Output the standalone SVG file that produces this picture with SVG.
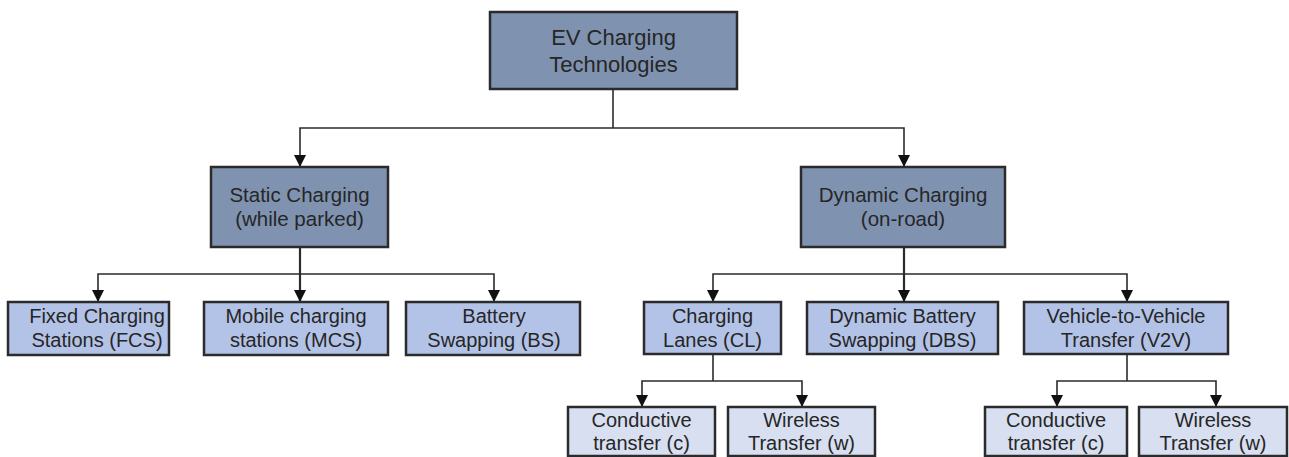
<svg xmlns="http://www.w3.org/2000/svg" width="1289" height="457" viewBox="0 0 1289 457">
<style>
.box{stroke:#2b2b2b;stroke-width:2.5}
.l0{fill:#7f93b1}
.l1{fill:#7f93b1}
.l2{fill:#b3c3e7}
.l3{fill:#d7dff1}
text{font-family:"Liberation Sans",Arial,sans-serif;fill:#262626;text-anchor:middle}
.t0{font-size:22px}
.t1{font-size:20.5px}
.t2{font-size:20px}
.c{fill:none;stroke:#2b2b2b;stroke-width:1.6}
</style>
<defs>
<marker id="ah" viewBox="0 0 12 12" refX="12" refY="6" markerWidth="12" markerHeight="12" markerUnits="userSpaceOnUse" orient="auto-start-reverse">
<path d="M0,0 L12,6 L0,12 Z" fill="#111"/>
</marker>
</defs>
<g id="connectors">
<path class="c" d="M613,89 V128"/>
<path class="c" d="M300,167 V128 H904 V167" marker-start="url(#ah)" marker-end="url(#ah)"/>
<path class="c" d="M300,247 V302" marker-end="url(#ah)" style="stroke-width:2.2"/>
<path class="c" d="M98,302 V274 H494 V302" marker-start="url(#ah)" marker-end="url(#ah)"/>
<path class="c" d="M904,247 V302" marker-end="url(#ah)" style="stroke-width:2.2"/>
<path class="c" d="M713,302 V274 H1127 V302" marker-start="url(#ah)" marker-end="url(#ah)"/>
<path class="c" d="M713,354 V381"/>
<path class="c" d="M642,407 V381 H802 V407" marker-start="url(#ah)" marker-end="url(#ah)"/>
<path class="c" d="M1127,354 V381"/>
<path class="c" d="M1057,407 V381 H1216 V407" marker-start="url(#ah)" marker-end="url(#ah)"/>
</g>
<g id="root">
<rect class="box l0" x="490" y="12" width="247" height="77"/>
<text class="t0" x="613.5" y="45">EV Charging</text>
<text class="t0" x="613.5" y="72">Technologies</text>
</g>
<g id="static">
<rect class="box l1" x="211" y="167" width="177" height="80"/>
<text class="t1" x="299.5" y="202">Static Charging</text>
<text class="t1" x="299.5" y="226">(while parked)</text>
</g>
<g id="dynamic">
<rect class="box l1" x="801" y="167" width="204" height="80"/>
<text class="t1" x="903" y="202">Dynamic Charging</text>
<text class="t1" x="903" y="226">(on-road)</text>
</g>
<g id="fcs">
<rect class="box l2" x="8" y="302" width="161" height="53"/>
<text class="t2" x="97" y="323">Fixed Charging</text>
<text class="t2" x="97" y="347">Stations (FCS)</text>
</g>
<g id="mcs">
<rect class="box l2" x="204" y="302" width="184" height="53"/>
<text class="t2" x="296" y="323">Mobile charging</text>
<text class="t2" x="296" y="347">stations (MCS)</text>
</g>
<g id="bs">
<rect class="box l2" x="406" y="302" width="174" height="53"/>
<text class="t2" x="494" y="323">Battery</text>
<text class="t2" x="494" y="347">Swapping (BS)</text>
</g>
<g id="cl">
<rect class="box l2" x="644" y="302" width="137" height="52"/>
<text class="t2" x="712.5" y="323">Charging</text>
<text class="t2" x="712.5" y="347">Lanes (CL)</text>
</g>
<g id="dbs">
<rect class="box l2" x="807" y="302" width="191" height="52"/>
<text class="t2" x="902.5" y="323">Dynamic Battery</text>
<text class="t2" x="902.5" y="347">Swapping (DBS)</text>
</g>
<g id="v2v">
<rect class="box l2" x="1024" y="302" width="204" height="52"/>
<text class="t2" x="1126" y="323">Vehicle-to-Vehicle</text>
<text class="t2" x="1126" y="347">Transfer (V2V)</text>
</g>
<g id="cl-c">
<rect class="box l3" x="568" y="407" width="147" height="49"/>
<text class="t2" x="641.5" y="427">Conductive</text>
<text class="t2" x="641.5" y="450">transfer (c)</text>
</g>
<g id="cl-w">
<rect class="box l3" x="728" y="407" width="147" height="49"/>
<text class="t2" x="801.5" y="427">Wireless</text>
<text class="t2" x="801.5" y="450">Transfer (w)</text>
</g>
<g id="v2v-c">
<rect class="box l3" x="985" y="407" width="142" height="49"/>
<text class="t2" x="1056" y="427">Conductive</text>
<text class="t2" x="1056" y="450">transfer (c)</text>
</g>
<g id="v2v-w">
<rect class="box l3" x="1139" y="407" width="148" height="49"/>
<text class="t2" x="1213" y="427">Wireless</text>
<text class="t2" x="1213" y="450">Transfer (w)</text>
</g>
</svg>
